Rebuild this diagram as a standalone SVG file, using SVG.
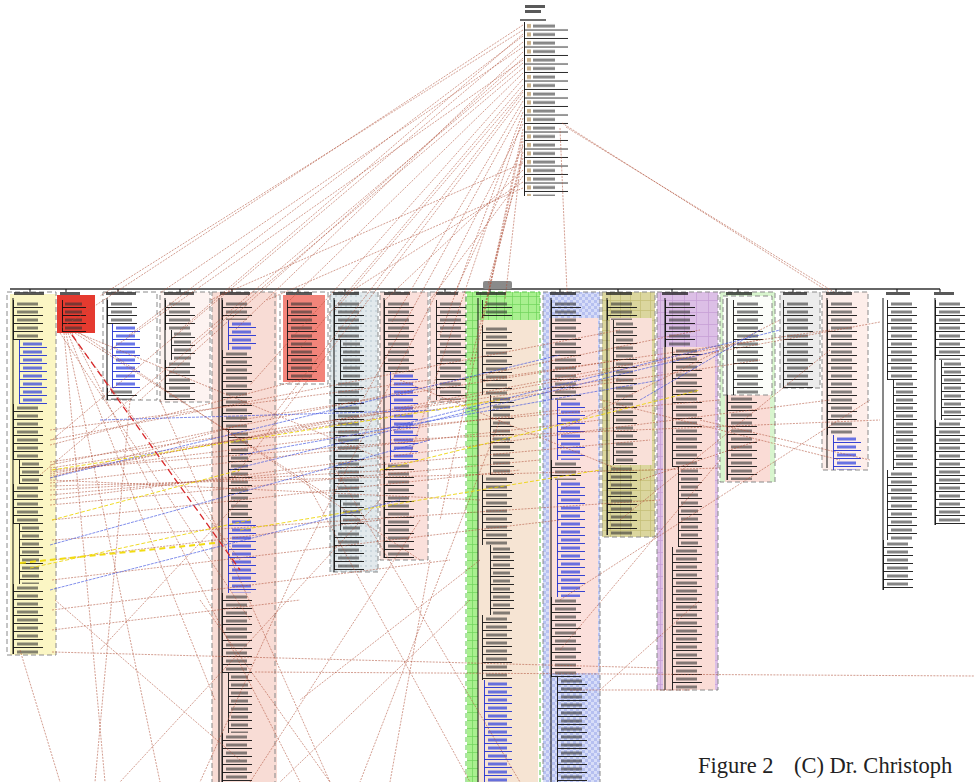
<svg xmlns="http://www.w3.org/2000/svg" width="974" height="782" viewBox="0 0 974 782">
<style>
.dash{fill:none;stroke:#8a8a8a;stroke-width:1;stroke-dasharray:5 3}
.sp{stroke:#111;stroke-width:1;fill:none}
.hd{fill:#222;opacity:.75}
.c{stroke:#b0503a;stroke-width:.7;stroke-dasharray:2 1.2;opacity:.8;fill:none}
.b{stroke:#3b4fe0;stroke-width:.8;stroke-dasharray:3 1;opacity:.8;fill:none}
.y{stroke:#ecd400;stroke-width:1;stroke-dasharray:4 2;opacity:.85;fill:none}
.yt{stroke:#f2dc10;stroke-width:2;stroke-dasharray:6 4;fill:none}
.r{stroke:#d8282a;stroke-width:1.3;stroke-dasharray:7 4;fill:none}
</style>
<defs>
<pattern id="e1" width="40" height="8" patternUnits="userSpaceOnUse"><path d="M0.5 0V8M0.5 7.5H30" stroke="#111" stroke-width=".9" fill="none"/><rect x="4" y="2.5" width="21" height="3" fill="#333" opacity=".6"/></pattern>
<pattern id="e2" width="40" height="8" patternUnits="userSpaceOnUse"><path d="M0.5 0V8M0.5 7.5H24" stroke="#111" stroke-width=".9" fill="none"/><rect x="3" y="2.5" width="17" height="3" fill="#333" opacity=".6"/></pattern>
<pattern id="eb" width="40" height="8" patternUnits="userSpaceOnUse"><path d="M0.5 0V8M0.5 7.5H28" stroke="#1f2fd0" stroke-width=".9" fill="none"/><rect x="4" y="2.5" width="19" height="3" fill="#2a3de0" opacity=".7"/></pattern>
<pattern id="et" width="50" height="8.5" patternUnits="userSpaceOnUse"><path d="M0.5 0V8.5M0.5 8H44" stroke="#111" stroke-width=".9" fill="none"/><rect x="3" y="2" width="4" height="4" fill="#c9b08a"/><rect x="9" y="2.5" width="22" height="3" fill="#333" opacity=".6"/></pattern>
<pattern id="gG" width="8" height="8" patternUnits="userSpaceOnUse"><rect width="8" height="8" fill="#a9f08f"/><path d="M0 0.5H8M0.5 0V8" stroke="#6fd45a" stroke-width=".7"/></pattern>
<pattern id="gB" width="6" height="6" patternUnits="userSpaceOnUse"><rect width="6" height="6" fill="#d7ddf8"/><rect width="3" height="3" fill="#b6c0f0"/><rect x="3" y="3" width="3" height="3" fill="#b6c0f0"/></pattern>
<pattern id="gP" width="12" height="12" patternUnits="userSpaceOnUse"><rect width="12" height="12" fill="#dcbfe6"/><path d="M0 0.5H12M0.5 0V12" stroke="#c6a0d6" stroke-width=".8"/></pattern>
<pattern id="gK" width="10" height="10" patternUnits="userSpaceOnUse"><rect width="10" height="10" fill="#dbd69e"/><path d="M0 0.5H10M0.5 0V10" stroke="#c5bf78" stroke-width=".8"/></pattern>
<pattern id="gS" width="5" height="5" patternUnits="userSpaceOnUse"><rect width="5" height="5" fill="#e2e9ec"/><rect width="2" height="2" fill="#cdd8de"/></pattern>
</defs>
<rect width="974" height="782" fill="#fff"/>

<g id="backgrounds">
<rect x="10" y="294" width="46" height="361" fill="#fbf6c4"/>
<rect x="7" y="292" width="49" height="363" class="dash"/>
<rect x="57" y="295" width="38" height="38" fill="#e53a2f"/>
<rect x="103" y="292" width="54" height="108" class="dash"/>
<rect x="160" y="292" width="50" height="110" fill="#fdf3f1"/>
<rect x="160" y="292" width="50" height="110" class="dash"/>
<rect x="212" y="292" width="65" height="495" fill="#f8dcd5"/>
<rect x="212" y="292" width="63" height="495" class="dash"/>
<rect x="283" y="295" width="42" height="87" fill="#f2847a"/>
<rect x="280" y="292" width="48" height="92" class="dash"/>
<rect x="330" y="292" width="48" height="280" fill="url(#gS)"/>
<rect x="330" y="292" width="48" height="280" class="dash"/>
<rect x="380" y="292" width="48" height="268" fill="#fae0db"/>
<rect x="380" y="292" width="48" height="268" class="dash"/>
<rect x="430" y="292" width="36" height="110" fill="#fbe3de"/>
<rect x="430" y="292" width="36" height="110" class="dash"/>
<rect x="467" y="292" width="73" height="28" fill="url(#gG)"/>
<rect x="467" y="320" width="11" height="467" fill="url(#gG)"/>
<rect x="478" y="320" width="60" height="467" fill="#f6e4d3"/>
<rect x="466" y="292" width="74" height="495" fill="none" stroke="#5ac84a" stroke-width="1" stroke-dasharray="5 3"/>
<rect x="543" y="292" width="57" height="495" fill="url(#gB)"/>
<rect x="549" y="318" width="49" height="355" fill="#fbe0dc"/>
<rect x="543" y="292" width="57" height="495" class="dash"/>
<rect x="602" y="292" width="53" height="245" fill="url(#gK)"/>
<rect x="610" y="318" width="42" height="147" fill="#f9e0d8"/>
<rect x="602" y="292" width="53" height="245" class="dash"/>
<rect x="657" y="292" width="61" height="398" fill="url(#gP)"/>
<rect x="663" y="347" width="52" height="343" fill="#fadcd6"/>
<rect x="657" y="292" width="61" height="398" class="dash"/>
<rect x="720" y="292" width="55" height="190" fill="#d8f5ce"/>
<rect x="723" y="296" width="49" height="99" fill="#fbfdf9"/>
<rect x="725" y="395" width="45" height="87" fill="#fadcd6"/>
<rect x="723" y="296" width="49" height="99" class="dash"/>
<rect x="720" y="292" width="55" height="190" class="dash"/>
<rect x="780" y="292" width="40" height="96" fill="#ececec"/>
<rect x="780" y="292" width="40" height="96" class="dash"/>
<rect x="822" y="292" width="46" height="178" fill="#fdeeea"/>
<rect x="822" y="292" width="46" height="178" class="dash"/>
</g>

<g id="bar">
<line x1="10" y1="289" x2="940" y2="289" stroke="#333" stroke-width="1.6"/>
<rect x="483" y="281" width="29" height="8" rx="2" fill="#8a8a8a"/>
</g>

<g id="top-node">
<rect x="525" y="5" width="20" height="3" class="hd"/>
<rect x="525" y="10" width="16" height="3" class="hd"/>
<line x1="520" y1="20" x2="546" y2="20" stroke="#111" stroke-width="1.2"/>
<rect transform="translate(524 22)" width="46" height="174" fill="url(#et)"/>
</g>

<g id="n1">
<line x1="30" y1="289" x2="30" y2="292" class="sp"/><rect x="14" y="292" width="30" height="3" class="hd"/>
<line x1="13" y1="298" x2="13" y2="654" class="sp"/>
<rect transform="translate(13 300)" width="40" height="40" fill="url(#e1)"/>
<rect transform="translate(19 340)" width="34" height="64" fill="url(#eb)"/>
<rect transform="translate(13 404)" width="40" height="56" fill="url(#e1)"/>
<rect transform="translate(19 460)" width="34" height="24" fill="url(#e2)"/>
<rect transform="translate(13 484)" width="40" height="40" fill="url(#e1)"/>
<rect transform="translate(19 524)" width="34" height="60" fill="url(#e2)"/>
<rect transform="translate(13 584)" width="40" height="70" fill="url(#e1)"/>
</g>
<g id="n2">
<line x1="66" y1="289" x2="66" y2="292" class="sp"/><rect x="60" y="292" width="20" height="3" class="hd"/>
<rect transform="translate(62 300)" width="32" height="32" fill="url(#e2)"/>
</g>
<g id="n3">
<line x1="118" y1="289" x2="118" y2="292" class="sp"/><rect x="106" y="292" width="30" height="3" class="hd"/>
<line x1="107" y1="298" x2="107" y2="400" class="sp"/>
<rect transform="translate(107 300)" width="40" height="24" fill="url(#e1)"/>
<rect transform="translate(112 324)" width="40" height="64" fill="url(#eb)"/>
<rect transform="translate(107 388)" width="40" height="12" fill="url(#e1)"/>
</g>
<g id="n4">
<line x1="180" y1="289" x2="180" y2="292" class="sp"/><rect x="164" y="292" width="30" height="3" class="hd"/>
<line x1="165" y1="298" x2="165" y2="400" class="sp"/>
<rect transform="translate(165 300)" width="40" height="30" fill="url(#e1)"/>
<rect transform="translate(171 330)" width="34" height="30" fill="url(#e2)"/>
<rect transform="translate(165 360)" width="40" height="40" fill="url(#e1)"/>
</g>
<g id="n5">
<line x1="232" y1="289" x2="232" y2="292" class="sp"/><rect x="220" y="292" width="30" height="3" class="hd"/>
<line x1="219" y1="298" x2="219" y2="782" class="sp"/>
<line x1="222" y1="298" x2="222" y2="782" class="sp"/>
<rect transform="translate(222 300)" width="40" height="20" fill="url(#e1)"/>
<rect transform="translate(228 320)" width="36" height="30" fill="url(#eb)"/>
<rect transform="translate(222 350)" width="40" height="80" fill="url(#e1)"/>
<rect transform="translate(228 430)" width="36" height="88" fill="url(#e2)"/>
<rect transform="translate(228 518)" width="36" height="75" fill="url(#eb)"/>
<rect transform="translate(222 593)" width="40" height="80" fill="url(#e1)"/>
<rect transform="translate(228 673)" width="36" height="60" fill="url(#e2)"/>
<rect transform="translate(222 733)" width="40" height="49" fill="url(#e1)"/>
</g>
<g id="n6">
<line x1="298" y1="289" x2="298" y2="292" class="sp"/><rect x="286" y="292" width="26" height="3" class="hd"/>
<rect transform="translate(287 300)" width="38" height="80" fill="url(#e1)"/>
</g>
<g id="n7">
<line x1="345" y1="289" x2="345" y2="292" class="sp"/><rect x="333" y="292" width="26" height="3" class="hd"/>
<line x1="334" y1="298" x2="334" y2="572" class="sp"/>
<rect transform="translate(334 300)" width="40" height="40" fill="url(#e1)"/>
<rect transform="translate(340 340)" width="36" height="40" fill="url(#e2)"/>
<rect transform="translate(334 380)" width="40" height="120" fill="url(#e1)"/>
<rect transform="translate(340 500)" width="36" height="30" fill="url(#e2)"/>
<rect transform="translate(334 530)" width="40" height="40" fill="url(#e1)"/>
</g>
<g id="n8">
<line x1="395" y1="289" x2="395" y2="292" class="sp"/><rect x="384" y="292" width="26" height="3" class="hd"/>
<line x1="384" y1="298" x2="384" y2="558" class="sp"/>
<rect transform="translate(384 300)" width="40" height="72" fill="url(#e1)"/>
<rect transform="translate(390 372)" width="36" height="90" fill="url(#eb)"/>
<rect transform="translate(384 462)" width="40" height="96" fill="url(#e1)"/>
</g>
<g id="n9">
<line x1="445" y1="289" x2="445" y2="292" class="sp"/><rect x="436" y="292" width="22" height="3" class="hd"/>
<rect transform="translate(436 300)" width="30" height="100" fill="url(#e1)"/>
</g>
<g id="n10">
<line x1="490" y1="289" x2="490" y2="292" class="sp"/><rect x="476" y="292" width="30" height="3" class="hd"/>
<line x1="478" y1="298" x2="478" y2="782" class="sp"/>
<rect transform="translate(482 300)" width="40" height="18" fill="url(#e1)"/>
<rect transform="translate(482 325)" width="40" height="70" fill="url(#e1)"/>
<rect transform="translate(490 395)" width="40" height="80" fill="url(#e2)"/>
<rect transform="translate(482 475)" width="40" height="70" fill="url(#e1)"/>
<rect transform="translate(490 545)" width="40" height="70" fill="url(#e2)"/>
<rect transform="translate(482 615)" width="40" height="65" fill="url(#e1)"/>
<rect transform="translate(484 680)" width="40" height="102" fill="url(#eb)"/>
</g>
<g id="n11">
<line x1="560" y1="289" x2="560" y2="292" class="sp"/><rect x="550" y="292" width="26" height="3" class="hd"/>
<line x1="551" y1="298" x2="551" y2="782" class="sp"/>
<rect transform="translate(551 300)" width="40" height="100" fill="url(#e1)"/>
<rect transform="translate(557 400)" width="38" height="60" fill="url(#eb)"/>
<rect transform="translate(551 460)" width="40" height="20" fill="url(#e1)"/>
<rect transform="translate(557 480)" width="38" height="117" fill="url(#eb)"/>
<rect transform="translate(551 597)" width="40" height="80" fill="url(#e1)"/>
<rect transform="translate(557 677)" width="38" height="105" fill="url(#e1)"/>
</g>
<g id="n12">
<line x1="618" y1="289" x2="618" y2="292" class="sp"/><rect x="606" y="292" width="26" height="3" class="hd"/>
<line x1="607" y1="298" x2="607" y2="535" class="sp"/>
<rect transform="translate(607 300)" width="40" height="20" fill="url(#e1)"/>
<rect transform="translate(613 320)" width="38" height="145" fill="url(#e2)"/>
<rect transform="translate(607 465)" width="40" height="70" fill="url(#e1)"/>
</g>
<g id="n13">
<line x1="672" y1="289" x2="672" y2="292" class="sp"/><rect x="662" y="292" width="26" height="3" class="hd"/>
<line x1="665" y1="298" x2="665" y2="690" class="sp"/>
<rect transform="translate(665 300)" width="40" height="47" fill="url(#e1)"/>
<rect transform="translate(672 347)" width="40" height="120" fill="url(#e1)"/>
<rect transform="translate(678 467)" width="36" height="80" fill="url(#e2)"/>
<rect transform="translate(672 547)" width="40" height="143" fill="url(#e1)"/>
</g>
<g id="n14">
<line x1="738" y1="289" x2="738" y2="292" class="sp"/><rect x="726" y="292" width="26" height="3" class="hd"/>
<line x1="727" y1="298" x2="727" y2="480" class="sp"/>
<rect transform="translate(733 300)" width="38" height="95" fill="url(#e1)"/>
<rect transform="translate(727 395)" width="40" height="85" fill="url(#e1)"/>
</g>
<g id="n15">
<line x1="793" y1="289" x2="793" y2="292" class="sp"/><rect x="783" y="292" width="24" height="3" class="hd"/>
<rect transform="translate(783 300)" width="36" height="88" fill="url(#e1)"/>
</g>
<g id="n16">
<line x1="836" y1="289" x2="836" y2="292" class="sp"/><rect x="826" y="292" width="26" height="3" class="hd"/>
<line x1="827" y1="298" x2="827" y2="468" class="sp"/>
<rect transform="translate(827 300)" width="40" height="135" fill="url(#e1)"/>
<rect transform="translate(833 435)" width="34" height="35" fill="url(#eb)"/>
</g>
<g id="n17">
<line x1="897" y1="289" x2="897" y2="292" class="sp"/><rect x="886" y="292" width="24" height="3" class="hd"/>
<line x1="883" y1="298" x2="883" y2="590" class="sp"/>
<rect transform="translate(887 300)" width="36" height="80" fill="url(#e1)"/>
<rect transform="translate(893 380)" width="30" height="90" fill="url(#e2)"/>
<rect transform="translate(887 470)" width="36" height="70" fill="url(#e1)"/>
<rect transform="translate(883 540)" width="36" height="50" fill="url(#e1)"/>
</g>
<g id="n18">
<line x1="940" y1="289" x2="940" y2="292" class="sp"/><rect x="934" y="292" width="20" height="3" class="hd"/>
<line x1="935" y1="298" x2="935" y2="525" class="sp"/>
<rect transform="translate(935 300)" width="39" height="60" fill="url(#e1)"/>
<rect transform="translate(941 360)" width="33" height="60" fill="url(#e2)"/>
<rect transform="translate(935 420)" width="39" height="105" fill="url(#e1)"/>
</g>

<g id="connectors">
<path class="c" d="M523 25L58 330M523 30L100 296M523 36L128 336M523 42L52 440M523 47L160 293M523 52L235 330M523 58L140 400M523 63L190 345M523 68L40 475M523 73L290 300M523 79L250 385M523 85L300 348M523 90L335 310M523 96L232 480M523 101L392 322M523 107L360 405M523 112L440 335M523 118L410 455M523 124L300 560M523 129L482 322M523 135L440 520M523 141L505 300M523 146L455 292M523 152L470 365M523 158L488 285M523 163L210 300M523 170L385 300M523 176L430 300M523 182L350 292M523 188L267 300M523 34L180 330M523 60L110 350M523 92L270 420"/>
<path class="c" d="M562 123L829 292M566 127L834 292M560 128L567 292"/>
<path class="c" d="M50 462L620 378M50 465L700 330M50 468L760 360M50 470L430 440M50 472L560 410M50 474L880 322M50 476L335 420M50 478L240 425M50 480L480 500M50 483L600 420M50 486L720 468M50 490L395 470M50 495L650 440M50 500L830 400M50 505L540 460M50 430L430 380M50 440L620 330M50 445L300 380M52 520L520 470M52 540L660 500M52 560L380 520M52 580L560 520M52 610L450 560M52 630L300 600M52 652L660 668M255 672L974 676M570 690L690 690"/>
<path class="c" d="M70 333L240 560M72 333L300 782M68 333L215 700M66 333L160 782M64 333L105 782M75 333L335 500M78 333L385 460M80 333L420 560M60 333L250 620"/>
<path class="c" d="M130 400L95 782M160 400L330 782M300 560L200 782M430 560L390 782M500 420L360 782M330 460L520 782M480 560L300 700M420 520L250 782M380 500L120 782M470 600L280 782M240 500L100 650M20 650L60 782M200 600L330 782M300 470L470 782M55 600L240 760"/>
<path class="c" d="M240 420L620 360M240 440L720 400M335 420L760 340M390 440L880 420M400 380L620 470M480 380L830 330M560 430L780 320M600 400L840 460M620 520L830 350M640 480L760 440M700 420L870 460M560 600L870 400M560 650L720 460M600 690L700 600"/>
<path class="b" d="M50 478L560 355M50 545L430 440M230 470L720 350M50 590L400 500M380 430L780 330M640 400L760 330M100 420L440 410M240 455L660 380"/>
<path class="y" d="M30 568L250 520M52 470L500 400M52 520L240 470M380 470L700 390M240 530L600 470"/>
<path class="yt" d="M20 563L215 543"/>
<path class="r" d="M72 335L240 570"/>
</g>

<g id="caption" font-family="'Liberation Serif', serif" font-size="22.5" fill="#222">
<text x="698" y="773">Figure 2</text>
<text x="794" y="773">(C) Dr. Christoph</text>
</g>
</svg>
